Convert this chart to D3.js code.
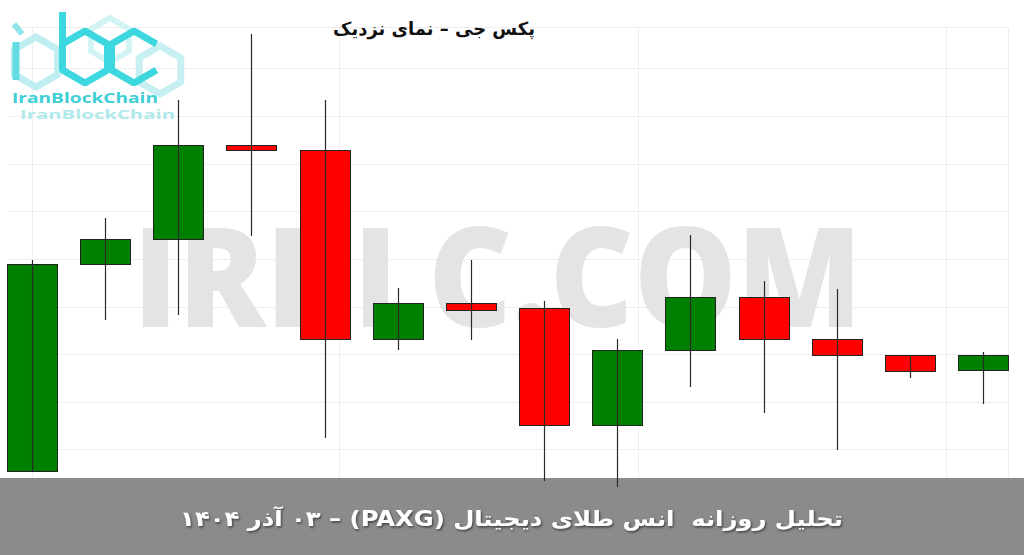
<!DOCTYPE html>
<html>
<head>
<meta charset="utf-8">
<title>PAXG daily</title>
<style>
body { margin: 0; background: #fff; }
svg { display: block; }
.grid line { stroke: #eeeeee; stroke-width: 1; }
.wick { stroke: #2a2a2a; stroke-width: 1.2; }
.body { stroke: #222; stroke-width: 1; }
</style>
</head>
<body>
<svg width="1024" height="555"></svg>
<script src="https://cdn.jsdelivr.net/npm/d3@7"></script>
<script>

// daily candles
var days  = [1, 2, 3, 4, 5, 6, 7, 8, 9, 10, 11, 12, 13, 14];
var open  = [4011.6, 4094.4, 4104.4, 4142.0, 4140.0, 4064.4, 4078.8, 4076.8, 4030.0, 4060.0, 4081.2, 4064.4, 4058.0, 4052.0];
var close = [4094.4, 4104.4, 4142.0, 4140.0, 4064.4, 4078.8, 4076.0, 4030.0, 4060.0, 4081.2, 4064.4, 4058.0, 4051.6, 4058.0];
var high  = [4096.0, 4112.8, 4160.0, 4186.4, 4160.0, 4084.8, 4096.0, 4079.6, 4064.4, 4106.0, 4087.6, 4084.4, 4058.0, 4059.2];
var low   = [4011.6, 4072.0, 4074.0, 4105.6, 4024.8, 4060.0, 4064.0, 4007.6, 4005.2, 4045.2, 4034.8, 4020.0, 4048.8, 4038.4];

var gridPrices = [4172.8, 4153.6, 4134.4, 4115.6, 4096.4, 4077.2, 4058.4, 4039.2, 4020.4];
var gridDays = [1, 5.2, 9.28, 13.5];

var title = "پکس جی – نمای نزدیک";
var caption = "تحلیل روزانه  انس طلای دیجیتال (PAXG) – ۰۳ آذر ۱۴۰۴";
var watermark = "IRBLC.COM";

var svg = d3.select("svg"),
    width = +svg.attr("width"),
    height = +svg.attr("height");

var x = d3.scaleLinear().domain([1, 14]).range([32, 983]);
var y = d3.scaleLinear().domain([4200, 3978]).range([0, 555]);
var bw = 50;

// faint grid
var grid = svg.append("g").attr("class", "grid");
grid.selectAll(".h").data(gridPrices).enter().append("line")
    .attr("x1", 10).attr("x2", 1008)
    .attr("y1", function(d) { return Math.round(y(d)) + 0.5; })
    .attr("y2", function(d) { return Math.round(y(d)) + 0.5; });
grid.selectAll(".v").data(gridDays).enter().append("line")
    .attr("y1", 27).attr("y2", 478)
    .attr("x1", function(d) { return Math.round(x(d)) + 0.5; })
    .attr("x2", function(d) { return Math.round(x(d)) + 0.5; });
grid.append("line").attr("x1", 10).attr("x2", 1008).attr("y1", 27.5).attr("y2", 27.5);
grid.append("line").attr("x1", 1008.5).attr("x2", 1008.5).attr("y1", 27).attr("y2", 478);

// watermark
svg.append("text")
    .attr("x", 133).attr("y", 327)
    .attr("font-family", "Open Sans")
    .attr("font-weight", 800)
    .attr("font-size", 138)
    .attr("fill", "#e4e4e4")
    .attr("textLength", 729)
    .attr("lengthAdjust", "spacingAndGlyphs")
    .text(watermark);

// logo
var logo = svg.append("g");
function hex(cx, cy, r, open) {
  var pts = [];
  for (var i = 0; i < 6; i++) {
    var a = Math.PI / 180 * (60 * i - 90);
    pts.push([cx + r * Math.cos(a), cy + r * Math.sin(a)]);
  }
  if (open) return "M" + [pts[1], pts[0], pts[5], pts[4], pts[3], pts[2]].join("L");
  return "M" + pts.join("L") + "Z";
}
logo.append("path").attr("d", hex(36, 62, 25)).attr("fill", "none")
    .attr("stroke", "#bfeef1").attr("stroke-width", 7);
logo.append("path").attr("d", hex(160, 70, 24)).attr("fill", "none")
    .attr("stroke", "#c6f0f2").attr("stroke-width", 7);
logo.append("path").attr("d", hex(110, 40, 22)).attr("fill", "none")
    .attr("stroke", "#d3f4f5").attr("stroke-width", 6);
logo.append("line").attr("x1", 16).attr("x2", 16).attr("y1", 42).attr("y2", 80)
    .attr("stroke", "#63dbe2").attr("stroke-width", 7);
logo.append("line").attr("x1", 14).attr("x2", 22).attr("y1", 24).attr("y2", 34)
    .attr("stroke", "#8fe4ea").attr("stroke-width", 6);
logo.append("path").attr("d", hex(85, 57, 26)).attr("fill", "none")
    .attr("stroke", "#3dd7df").attr("stroke-width", 7).attr("stroke-linejoin", "bevel");
logo.append("line").attr("x1", 62.5).attr("x2", 62.5).attr("y1", 12).attr("y2", 71)
    .attr("stroke", "#3dd7df").attr("stroke-width", 7);
logo.append("path").attr("d", hex(134, 57, 26, true)).attr("fill", "none")
    .attr("stroke", "#3dd7df").attr("stroke-width", 7).attr("stroke-linejoin", "bevel");
logo.append("text").attr("x", 12).attr("y", 103)
    .attr("font-family", "Open Sans").attr("font-weight", 700).attr("font-size", 14.5)
    .attr("fill", "#3fcfd6").attr("textLength", 146).attr("lengthAdjust", "spacingAndGlyphs")
    .text("IranBlockChain");
logo.append("text").attr("x", 20).attr("y", 119)
    .attr("font-family", "Open Sans").attr("font-weight", 700).attr("font-size", 13)
    .attr("fill", "#b0e9ec").attr("textLength", 155).attr("lengthAdjust", "spacingAndGlyphs")
    .text("IranBlockChain");

// title
var ttl = svg.append("text")
    .attr("direction", "rtl")
    .attr("text-anchor", "middle")
    .attr("font-family", "DejaVu Sans")
    .attr("font-weight", "bold")
    .attr("font-size", 18)
    .attr("fill", "#111")
    .text(title);
var tw = ttl.node().getComputedTextLength();
ttl.attr("transform", "translate(434,35) scale(" + (202 / tw) + ",1)");

// caption banner (candles are drawn over it)
svg.append("rect").attr("x", 0).attr("y", 478).attr("width", width).attr("height", height - 478)
    .attr("fill", "#8b8b8b");
svg.append("line").attr("x1", 5).attr("x2", 1010).attr("y1", 493.5).attr("y2", 493.5)
    .attr("stroke", "#909090");

var defs = svg.append("defs");
var f = defs.append("filter").attr("id", "sh").attr("x", "-5%").attr("y", "-20%").attr("width", "110%").attr("height", "150%");
f.append("feDropShadow").attr("dx", 1).attr("dy", 1.5).attr("stdDeviation", 0.8)
    .attr("flood-color", "#000").attr("flood-opacity", 0.55);

var cap = svg.append("text")
    .attr("direction", "rtl")
    .attr("text-anchor", "middle")
    .attr("font-family", "DejaVu Sans")
    .attr("font-weight", "bold")
    .attr("font-size", 21)
    .attr("fill", "#fff")
    .attr("filter", "url(#sh)")
    .style("white-space", "pre")
    .text(caption);
var cw = cap.node().getComputedTextLength();
cap.attr("transform", "translate(511.5,526) scale(" + (663 / cw) + ",1)");

// candles
var candles = svg.append("g").selectAll("g")
    .data(days)
  .enter().append("g");

candles.append("rect")
    .attr("class", "body")
    .attr("x", function(d, i) { return Math.round(x(d) - bw / 2) + 0.5; })
    .attr("width", bw)
    .attr("y", function(d, i) { return Math.round(y(Math.max(open[i], close[i]))) + 0.5; })
    .attr("height", function(d, i) { return Math.max(4, Math.round(y(Math.min(open[i], close[i])) - y(Math.max(open[i], close[i])))); })
    .attr("fill", function(d, i) { return close[i] >= open[i] ? "#008000" : "#ff0000"; });

candles.append("line")
    .attr("class", "wick")
    .attr("x1", function(d) { return Math.round(x(d)) + 0.5; })
    .attr("x2", function(d) { return Math.round(x(d)) + 0.5; })
    .attr("y1", function(d, i) { return y(high[i]); })
    .attr("y2", function(d, i) { return y(low[i]); });

</script>
</body>
</html>
